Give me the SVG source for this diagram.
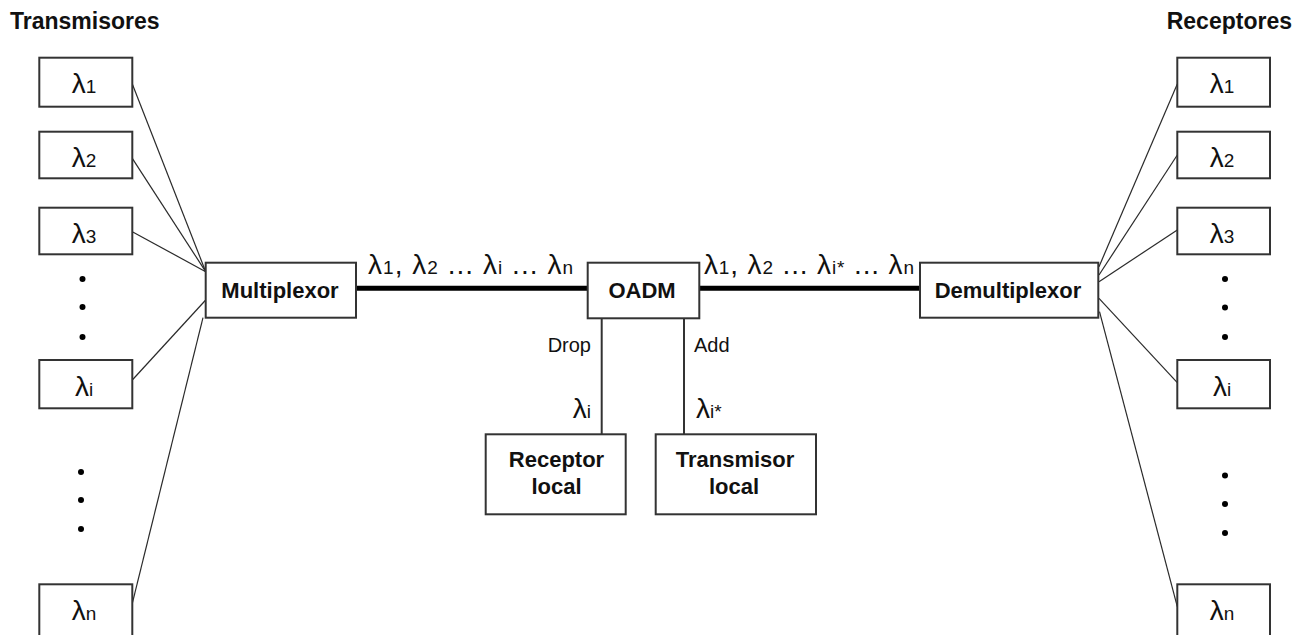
<svg xmlns="http://www.w3.org/2000/svg" width="1302" height="635" viewBox="0 0 1302 635">
<style>
  .box { fill: #ffffff; stroke: #333333; stroke-width: 2; }
  .thin { stroke: #2a2a2a; stroke-width: 1.2; fill: none; }
  .thick { stroke: #000000; stroke-width: 5; fill: none; }
  .vert { stroke: #333333; stroke-width: 2; fill: none; }
  .bold { font-family: "Liberation Sans", Arial, sans-serif; font-weight: bold; font-size: 22px; fill: #111111; }
  .title { font-family: "Liberation Sans", Arial, sans-serif; font-weight: bold; font-size: 23px; fill: #111111; }
  .lam { font-family: "Liberation Sans", Arial, sans-serif; font-size: 28px; fill: #111111; }
  .sub { font-size: 19px; }
  .reg { font-family: "Liberation Sans", Arial, sans-serif; font-size: 20px; fill: #111111; }
  .dot { fill: #000000; }
</style>

<text class="title" x="10" y="29">Transmisores</text>
<text class="title" x="1292" y="29" text-anchor="end">Receptores</text>

<g id="connectors">
  <line class="thin" x1="132.3" y1="84" x2="205.7" y2="271.7"/>
  <line class="thin" x1="132.3" y1="158.3" x2="205.7" y2="271.7"/>
  <line class="thin" x1="132.3" y1="231.7" x2="205.7" y2="271.7"/>
  <line class="thin" x1="132.3" y1="380" x2="205.7" y2="300"/>
  <line class="thin" x1="132.3" y1="603.3" x2="203" y2="317.7"/>
  <line class="thin" x1="1099" y1="266.7" x2="1177.3" y2="84"/>
  <line class="thin" x1="1099" y1="275" x2="1177.3" y2="155"/>
  <line class="thin" x1="1099" y1="281.7" x2="1177.3" y2="230"/>
  <line class="thin" x1="1099" y1="298.3" x2="1177.3" y2="382.7"/>
  <line class="thin" x1="1099.5" y1="311.7" x2="1177.3" y2="606.7"/>
  <line class="thick" x1="356" y1="288.3" x2="587.7" y2="288.3"/>
  <line class="thick" x1="699.3" y1="288.3" x2="920" y2="288.3"/>
  <line class="vert" x1="601.7" y1="318.3" x2="601.7" y2="434.3"/>
  <line class="vert" x1="684" y1="318.3" x2="684" y2="434.3"/>
  <text class="lam" x="368" y="274" textLength="205" lengthAdjust="spacing">λ<tspan class="sub">1</tspan>, λ<tspan class="sub">2</tspan> ... λ<tspan class="sub">i</tspan> ... λ<tspan class="sub">n</tspan></text>
  <text class="lam" x="704" y="274" textLength="210" lengthAdjust="spacing">λ<tspan class="sub">1</tspan>, λ<tspan class="sub">2</tspan> ... λ<tspan class="sub">i*</tspan> ... λ<tspan class="sub">n</tspan></text>
  <text class="reg" x="591" y="352" text-anchor="end">Drop</text>
  <text class="reg" x="694" y="352">Add</text>
  <text class="lam" x="591" y="418" text-anchor="end">λ<tspan class="sub">i</tspan></text>
  <text class="lam" x="696" y="418">λ<tspan class="sub">i*</tspan></text>
</g>

<g id="tx1"><rect class="box" x="39.3" y="57.7" width="93" height="49"/><text class="lam" x="84" y="93.3" text-anchor="middle">λ<tspan class="sub">1</tspan></text></g>
<g id="tx2"><rect class="box" x="39.3" y="131.7" width="93" height="46.6"/><text class="lam" x="84" y="167" text-anchor="middle">λ<tspan class="sub">2</tspan></text></g>
<g id="tx3"><rect class="box" x="39.3" y="207.7" width="93" height="46.6"/><text class="lam" x="84" y="243" text-anchor="middle">λ<tspan class="sub">3</tspan></text></g>
<g id="txi"><rect class="box" x="39.3" y="360" width="93" height="48.3"/><text class="lam" x="84" y="395.5" text-anchor="middle">λ<tspan class="sub">i</tspan></text></g>
<g id="txn"><rect class="box" x="39.3" y="584.3" width="93" height="60"/><text class="lam" x="84" y="620" text-anchor="middle">λ<tspan class="sub">n</tspan></text></g>

<g id="tx-dots">
  <circle class="dot" cx="82.5" cy="279" r="3"/>
  <circle class="dot" cx="82.5" cy="307" r="3"/>
  <circle class="dot" cx="82.5" cy="337" r="3"/>
  <circle class="dot" cx="81" cy="472" r="3"/>
  <circle class="dot" cx="81" cy="500" r="3"/>
  <circle class="dot" cx="81" cy="529" r="3"/>
</g>

<g id="mux"><rect class="box" x="205.7" y="262.7" width="150.3" height="55"/><text class="bold" x="280" y="297.7" text-anchor="middle">Multiplexor</text></g>
<g id="oadm"><rect class="box" x="587.7" y="262.7" width="111.6" height="55.6"/><text class="bold" x="642" y="298.3" text-anchor="middle">OADM</text></g>
<g id="demux"><rect class="box" x="920" y="262.7" width="178.3" height="55"/><text class="bold" x="1008" y="297.7" text-anchor="middle">Demultiplexor</text></g>

<g id="rx-local"><rect class="box" x="485.7" y="434.3" width="140" height="80"/><text class="bold" x="556.5" y="466.7" text-anchor="middle">Receptor</text><text class="bold" x="556.5" y="494" text-anchor="middle">local</text></g>
<g id="tx-local"><rect class="box" x="655.7" y="434.3" width="160.3" height="80"/><text class="bold" x="735" y="466.7" text-anchor="middle">Transmisor</text><text class="bold" x="734" y="494" text-anchor="middle">local</text></g>

<g id="rx1"><rect class="box" x="1177.3" y="57.7" width="92.7" height="49"/><text class="lam" x="1222" y="93.3" text-anchor="middle">λ<tspan class="sub">1</tspan></text></g>
<g id="rx2"><rect class="box" x="1177.3" y="131.7" width="92.7" height="46.6"/><text class="lam" x="1222" y="167" text-anchor="middle">λ<tspan class="sub">2</tspan></text></g>
<g id="rx3"><rect class="box" x="1177.3" y="207.7" width="92.7" height="46.6"/><text class="lam" x="1222" y="243" text-anchor="middle">λ<tspan class="sub">3</tspan></text></g>
<g id="rxi"><rect class="box" x="1177.3" y="360" width="92.7" height="48.3"/><text class="lam" x="1222" y="395.5" text-anchor="middle">λ<tspan class="sub">i</tspan></text></g>
<g id="rxn"><rect class="box" x="1177.3" y="584.3" width="92.7" height="60"/><text class="lam" x="1222" y="620" text-anchor="middle">λ<tspan class="sub">n</tspan></text></g>

<g id="rx-dots">
  <circle class="dot" cx="1225" cy="279" r="3"/>
  <circle class="dot" cx="1225" cy="307.5" r="3"/>
  <circle class="dot" cx="1225" cy="337" r="3"/>
  <circle class="dot" cx="1225" cy="475.5" r="3"/>
  <circle class="dot" cx="1225" cy="504" r="3"/>
  <circle class="dot" cx="1225" cy="533" r="3"/>
</g>
</svg>
